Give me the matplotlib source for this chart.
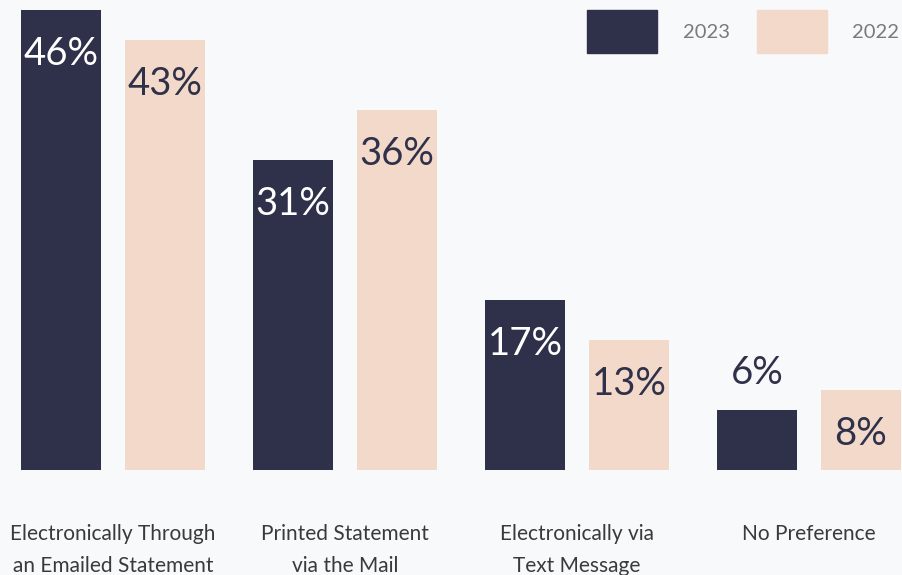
import matplotlib

matplotlib.use("Agg")
import matplotlib.pyplot as plt
import numpy as np
from matplotlib.patches import Rectangle
from matplotlib.transforms import blended_transform_factory

categories = [
    "Electronically Through\nan Emailed Statement",
    "Printed Statement\nvia the Mail",
    "Electronically via\nText Message",
    "No Preference",
]
values_2023 = [46, 31, 17, 6]
values_2022 = [43, 36, 13, 8]
series_labels = ["2023", "2022"]

NAVY = "#2e3149"
PEACH = "#f3d9ca"
BG = "#f8f9fb"
FONT = ["Lato", "DejaVu Sans"]

W, H = 903, 575
fig = plt.figure(figsize=(W / 100, H / 100), dpi=100, facecolor=BG)
# axes span the full width; baseline sits 105 px above the bottom edge
ax = fig.add_axes([0, 105 / H, 1, 470 / H])
ax.set_facecolor(BG)

x = np.arange(len(categories))
width = 80 / 232
offset = 52 / 232

bars_a = ax.bar(x - offset, values_2023, width, color=NAVY)
bars_b = ax.bar(x + offset, values_2022, width, color=PEACH)

ax.set_xlim(-113 / 232, (W - 113) / 232)
ax.set_ylim(0, 47)
ax.axis("off")


def label_bars(bars, vals, inside_color):
    for b, v in zip(bars, vals):
        cx = b.get_x() + b.get_width() / 2
        if v < 7:
            y, col = v + 3.7, NAVY
        else:
            y, col = v - 4.4, inside_color
        ax.text(cx, y, f"{v}%", ha="center", va="center", fontsize=27.5,
                color=col, family=FONT)


label_bars(bars_a, values_2023, "white")
label_bars(bars_b, values_2022, NAVY)

# category names under each group, one text per line (32 px apart)
trans = blended_transform_factory(ax.transData, ax.transAxes)
for xi, name in zip(x, categories):
    for i, line in enumerate(name.split("\n")):
        y_px = 534 + 32 * i
        ax.text(xi, -(y_px - 470) / 470, line, transform=trans, ha="center",
                va="center", fontsize=15, color="#3a3a3a", family=FONT)

# legend, placed in pixel coordinates
def px_box(x0, y0, w, h, color):
    fig.patches.append(Rectangle((x0 / W, 1 - (y0 + h) / H), w / W, h / H,
                                 transform=fig.transFigure, color=color))


for (bx, tx), lab, col in zip([(587, 707), (757, 876)], series_labels, [NAVY, PEACH]):
    px_box(bx, 10, 70, 43, col)
    fig.text(tx / W, 1 - 33 / H, lab, ha="center", va="center", fontsize=14.5,
             color="#7a7a7a", family=FONT)

fig.savefig("out.png", dpi=100, facecolor=BG)
